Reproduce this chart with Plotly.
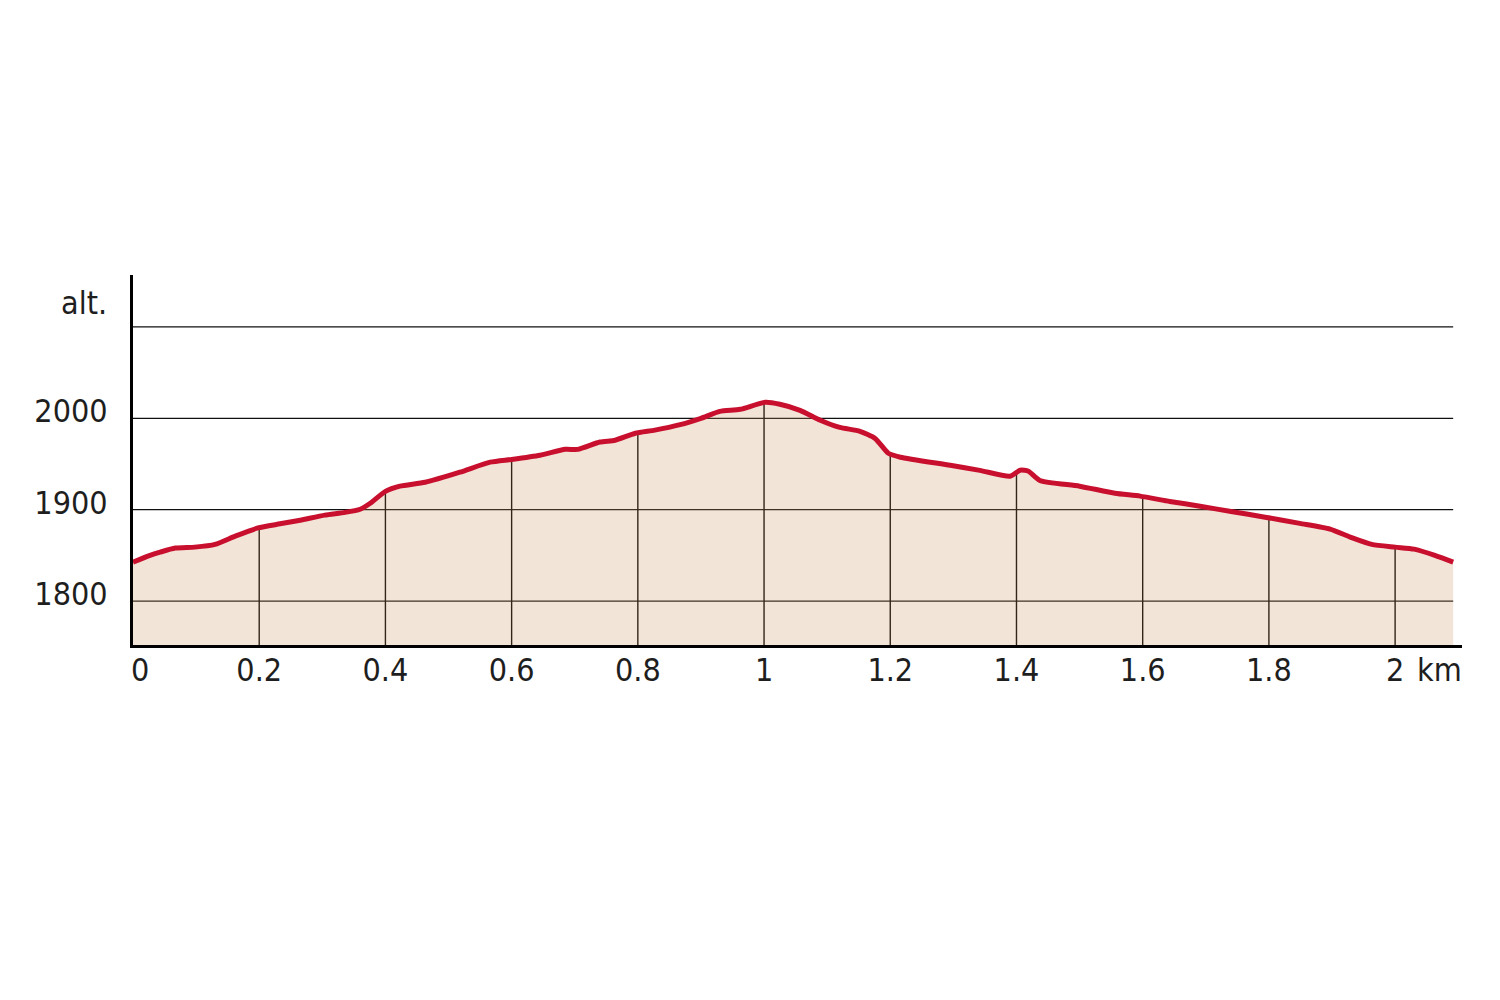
import numpy as np
import plotly.graph_objects as go

# distance (km) and altitude (m) read from the profile
dist = [0.0, 0.027, 0.043, 0.067, 0.098, 0.13, 0.162, 0.198, 0.233, 0.265, 0.304,
        0.336, 0.36, 0.376, 0.4, 0.423, 0.463, 0.518, 0.566, 0.6, 0.645, 0.685,
        0.705, 0.74, 0.764, 0.796, 0.827, 0.867, 0.9, 0.93, 0.962, 1.002, 1.025,
        1.057, 1.089, 1.12, 1.152, 1.176, 1.197, 1.216, 1.295, 1.342, 1.39, 1.406,
        1.419, 1.437, 1.5, 1.556, 1.596, 1.643, 1.691, 1.74, 1.794, 1.849, 1.897,
        1.929, 1.963, 2.0, 2.03, 2.063, 2.092]
alt = [1842.6, 1850, 1853.5, 1858, 1859, 1862, 1871, 1880, 1884.5, 1888.5, 1894,
       1897, 1900.5, 1907, 1920, 1925.7, 1930, 1941, 1952, 1955, 1959.6, 1966,
       1966, 1974, 1976, 1983.6, 1987, 1993, 2000, 2007.6, 2009.8, 2017.5, 2015.3,
       2008.7, 1997.8, 1990, 1985.8, 1978, 1961.7, 1957.4, 1948.6, 1943, 1936.6,
       1943.2, 1942, 1932, 1925.7, 1918, 1914.8, 1909, 1903.8, 1898, 1891.8, 1885,
       1878.7, 1870, 1862, 1859, 1856.8, 1850, 1842.6]

x_ticks = [0.2, 0.4, 0.6, 0.8, 1.0, 1.2, 1.4, 1.6, 1.8, 2.0]
x_tick_text = ["0.2", "0.4", "0.6", "0.8", "1", "1.2", "1.4", "1.6", "1.8", "2"]
y_ticks = [1800, 1900, 2000]
y_grid = [1800, 1900, 2000, 2100]
Y_MIN, Y_MAX = 1751.9, 2156.8

FONT = "Liberation Sans Narrow, DejaVu Sans Condensed, sans-serif"
FS = 32
TXT = "#1e1e1e"
RED = "#c8102e"

fig = go.Figure()
fig.add_trace(go.Scatter(
    x=dist, y=alt, mode="lines",
    line=dict(color=RED, width=5, shape="spline", smoothing=0.6),
    fill="tozeroy", fillcolor="rgba(207,147,99,0.25)",
    hoverinfo="skip", showlegend=False,
))

shapes = []
x_end = max(dist)
for g in y_grid:
    shapes.append(dict(type="line", xref="x", yref="y", x0=0, x1=x_end, y0=g, y1=g,
                       line=dict(color="#111", width=1.3), layer="below"))
for t in x_ticks:
    top = float(np.interp(t, dist, alt))
    shapes.append(dict(type="line", xref="x", yref="y", x0=t, x1=t, y0=Y_MIN, y1=top,
                       line=dict(color="#000", width=1.4), layer="below"))

fig.update_layout(
    width=1500, height=1000,
    margin=dict(l=125, r=46, t=267, b=363),
    paper_bgcolor="white", plot_bgcolor="white",
    font=dict(family=FONT, size=FS, color=TXT),
    shapes=shapes,
    xaxis=dict(range=[0, 2.106], tickvals=x_ticks, ticktext=x_tick_text,
               showgrid=False, zeroline=False, showline=True, linecolor="black",
               linewidth=3, ticks="", ticklabelstandoff=-5, automargin=False),
    yaxis=dict(range=[Y_MIN, Y_MAX], tickvals=y_ticks, showgrid=False,
               zeroline=False, showline=True, linecolor="black", linewidth=3,
               ticks="", ticklabelstandoff=16, ticklabelshift=-7, automargin=False),
    annotations=[
        dict(text="alt.", xref="paper", yref="paper", x=0, y=1, xanchor="right",
             yanchor="middle", xshift=-24, yshift=-28, showarrow=False,
             font=dict(family=FONT, size=FS, color=TXT)),
        dict(text="0", xref="x", yref="paper", x=0, y=0, xanchor="left",
             yanchor="middle", xshift=-4, yshift=-25, showarrow=False,
             font=dict(family=FONT, size=FS, color=TXT)),
        dict(text="km", xref="paper", yref="paper", x=1, y=0, xanchor="right",
             yanchor="middle", xshift=2, yshift=-25, showarrow=False,
             font=dict(family=FONT, size=FS, color=TXT)),
    ],
)

fig.write_html("out.html")
